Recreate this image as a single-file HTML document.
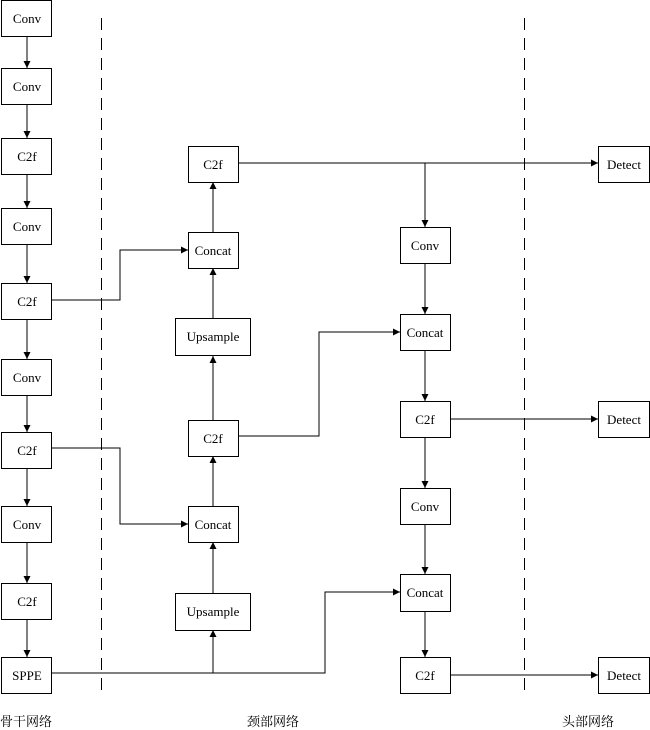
<!DOCTYPE html>
<html><head><meta charset="utf-8"><style>
html,body{margin:0;padding:0;background:#fff;}
svg{display:block;}
text{font-family:"Liberation Serif","Noto Serif CJK SC",serif;font-size:13px;fill:#000;}
</style></head><body>
<svg width="650" height="730" viewBox="0 0 650 730" xmlns="http://www.w3.org/2000/svg">
<defs><marker id="a" markerWidth="8" markerHeight="8" refX="7" refY="4" orient="auto" markerUnits="userSpaceOnUse"><path d="M0,0.5 L7,4 L0,7.5 Z" fill="#000"/></marker></defs>
<g stroke="#000" stroke-width="1" fill="none">
<line x1="101.5" y1="18" x2="101.5" y2="692" stroke-dasharray="12,8"/>
<line x1="524.5" y1="18" x2="524.5" y2="692" stroke-dasharray="12,8"/>
<line x1="27" y1="37" x2="27" y2="68" marker-end="url(#a)"/>
<line x1="27" y1="104" x2="27" y2="138" marker-end="url(#a)"/>
<line x1="27" y1="174" x2="27" y2="208" marker-end="url(#a)"/>
<line x1="27" y1="245" x2="27" y2="283" marker-end="url(#a)"/>
<line x1="27" y1="320" x2="27" y2="359" marker-end="url(#a)"/>
<line x1="27" y1="395" x2="27" y2="432" marker-end="url(#a)"/>
<line x1="27" y1="469" x2="27" y2="506" marker-end="url(#a)"/>
<line x1="27" y1="542" x2="27" y2="583" marker-end="url(#a)"/>
<line x1="27" y1="620" x2="27" y2="657" marker-end="url(#a)"/>
<line x1="213" y1="232" x2="213" y2="182" marker-end="url(#a)"/>
<line x1="213" y1="318" x2="213" y2="268" marker-end="url(#a)"/>
<line x1="213" y1="420" x2="213" y2="356" marker-end="url(#a)"/>
<line x1="213" y1="506" x2="213" y2="456" marker-end="url(#a)"/>
<line x1="213" y1="593" x2="213" y2="542" marker-end="url(#a)"/>
<line x1="213" y1="673" x2="213" y2="630" marker-end="url(#a)"/>
<polyline points="52,300 120,300 120,250 188,250" marker-end="url(#a)"/>
<polyline points="52,448 120,448 120,524 188,524" marker-end="url(#a)"/>
<polyline points="52,673 325,673 325,592 400,592" marker-end="url(#a)"/>
<polyline points="238,436 319,436 319,332 400,332" marker-end="url(#a)"/>
<line x1="238" y1="163" x2="598" y2="163" marker-end="url(#a)"/>
<line x1="425" y1="163" x2="425" y2="227" marker-end="url(#a)"/>
<line x1="425" y1="263" x2="425" y2="314" marker-end="url(#a)"/>
<line x1="425" y1="350" x2="425" y2="401" marker-end="url(#a)"/>
<line x1="425" y1="437" x2="425" y2="488" marker-end="url(#a)"/>
<line x1="425" y1="524" x2="425" y2="574" marker-end="url(#a)"/>
<line x1="425" y1="611" x2="425" y2="657" marker-end="url(#a)"/>
<line x1="450" y1="419" x2="598" y2="419" marker-end="url(#a)"/>
<line x1="450" y1="675" x2="598" y2="675" marker-end="url(#a)"/>
<rect x="1.5" y="0.5" width="50" height="36"/>
<rect x="1.5" y="68.5" width="50" height="36"/>
<rect x="1.5" y="138.5" width="50" height="36"/>
<rect x="1.5" y="208.5" width="50" height="36"/>
<rect x="1.5" y="283.5" width="50" height="36"/>
<rect x="1.5" y="359.5" width="50" height="36"/>
<rect x="1.5" y="432.5" width="50" height="36"/>
<rect x="1.5" y="506.5" width="50" height="36"/>
<rect x="1.5" y="583.5" width="50" height="36"/>
<rect x="1.5" y="657.5" width="50" height="36"/>
<rect x="188.5" y="146.5" width="50" height="36"/>
<rect x="188.5" y="232.5" width="50" height="36"/>
<rect x="175.5" y="318.5" width="75" height="37"/>
<rect x="188.5" y="420.5" width="50" height="36"/>
<rect x="188.5" y="506.5" width="50" height="36"/>
<rect x="175.5" y="593.5" width="75" height="37"/>
<rect x="400.5" y="227.5" width="50" height="36"/>
<rect x="400.5" y="314.5" width="50" height="36"/>
<rect x="400.5" y="401.5" width="50" height="36"/>
<rect x="400.5" y="488.5" width="50" height="36"/>
<rect x="400.5" y="574.5" width="50" height="37"/>
<rect x="400.5" y="657.5" width="50" height="36"/>
<rect x="598.5" y="146.5" width="51" height="36"/>
<rect x="598.5" y="401.5" width="51" height="36"/>
<rect x="598.5" y="657.5" width="51" height="36"/>
</g>
<g text-anchor="middle">
<text x="27" y="23">Conv</text>
<text x="27" y="91">Conv</text>
<text x="27" y="161">C2f</text>
<text x="27" y="231">Conv</text>
<text x="27" y="306">C2f</text>
<text x="27" y="382">Conv</text>
<text x="27" y="455">C2f</text>
<text x="27" y="529">Conv</text>
<text x="27" y="606">C2f</text>
<text x="27" y="680">SPPE</text>
<text x="213" y="169">C2f</text>
<text x="213" y="255">Concat</text>
<text x="213" y="341">Upsample</text>
<text x="213" y="443">C2f</text>
<text x="213" y="529">Concat</text>
<text x="213" y="616">Upsample</text>
<text x="425" y="250">Conv</text>
<text x="425" y="337">Concat</text>
<text x="425" y="424">C2f</text>
<text x="425" y="511">Conv</text>
<text x="425" y="597">Concat</text>
<text x="425" y="680">C2f</text>
<text x="624" y="169">Detect</text>
<text x="624" y="424">Detect</text>
<text x="624" y="680">Detect</text>
<text x="26" y="726">骨干网络</text>
<text x="273" y="726">颈部网络</text>
<text x="588" y="726">头部网络</text>
</g>
</svg>
</body></html>
